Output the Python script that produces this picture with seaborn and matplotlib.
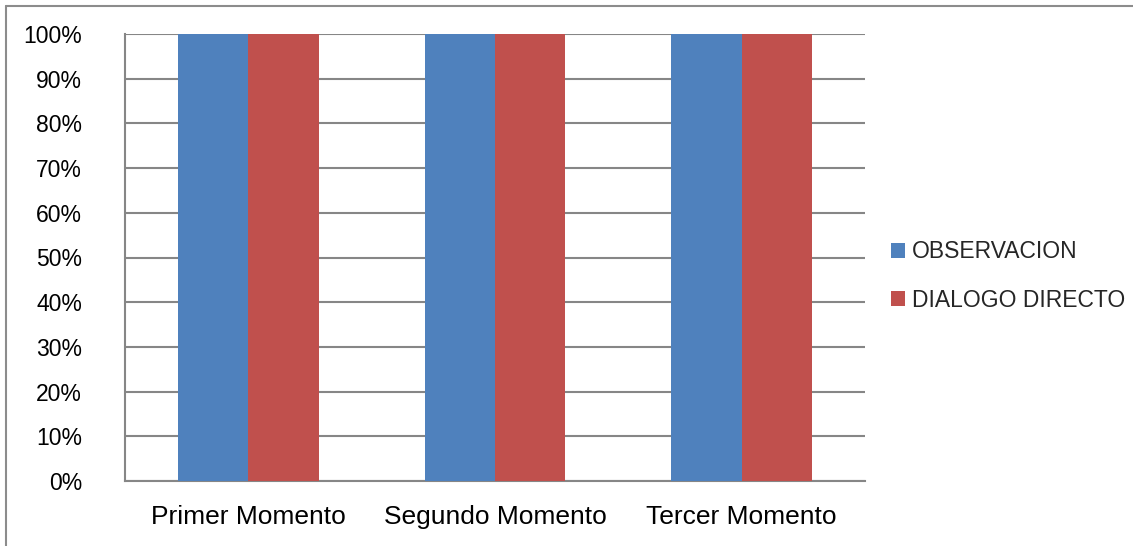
import matplotlib
matplotlib.use("Agg")
import matplotlib.pyplot as plt
from matplotlib.lines import Line2D
from matplotlib.patches import Patch
from matplotlib.ticker import PercentFormatter
import seaborn as sns
import pandas as pd

# Data
momentos = ["Primer Momento", "Segundo Momento", "Tercer Momento"]
observacion = [1.0, 1.0, 1.0]
dialogo_directo = [1.0, 1.0, 1.0]
series_names = ["OBSERVACION", "DIALOGO DIRECTO"]
y_ticks = [0.0, 0.1, 0.2, 0.3, 0.4, 0.5, 0.6, 0.7, 0.8, 0.9, 1.0]

df = pd.DataFrame({
    "Momento": momentos * 2,
    "Serie": [series_names[0]] * len(momentos) + [series_names[1]] * len(momentos),
    "Valor": observacion + dialogo_directo,
})

sns.set_style("white")
plt.rcParams["font.family"] = ["Liberation Sans", "DejaVu Sans"]

colors = {"OBSERVACION": "#4F81BD", "DIALOGO DIRECTO": "#C0504D"}
grid_color = "#868686"

fig = plt.figure(figsize=(11.33, 5.46), dpi=100)
ax = fig.add_axes([125 / 1133, 1 - 481 / 546, 740 / 1133, 447 / 546])

sns.barplot(
    data=df, x="Momento", y="Valor", hue="Serie",
    palette=colors, width=0.57, saturation=1, linewidth=0,
    ax=ax, legend=False, zorder=3,
)

ax.set_xlim(-0.5, 2.5)
ax.set_ylim(0, 1)
ax.set_yticks(y_ticks)
ax.yaxis.set_major_formatter(PercentFormatter(1.0, decimals=0))
ax.set_xlabel("")
ax.set_ylabel("")

ax.yaxis.grid(True, color=grid_color, linewidth=1.5, zorder=0)
ax.set_axisbelow(True)
for side in ("top", "right"):
    ax.spines[side].set_visible(False)
for side in ("left", "bottom"):
    ax.spines[side].set_color(grid_color)
    ax.spines[side].set_linewidth(1.5)

ax.tick_params(axis="y", length=0, pad=31, labelsize=16.5, labelcolor="black")
ax.tick_params(axis="x", length=0, pad=17, labelsize=19, labelcolor="black")

handles = [Patch(facecolor=colors[n], edgecolor="none") for n in series_names]
fig.legend(
    handles, series_names, loc="center left",
    bbox_to_anchor=(891 / 1133, 1 - 276 / 546),
    frameon=False, fontsize=16.5, handlelength=0.62, handleheight=0.62,
    handletextpad=0.3, labelspacing=1.1, borderpad=0, borderaxespad=0,
)

# Outer chart-area border (top and left edges)
border_kw = dict(color="#8C8C8C", linewidth=1.5, transform=fig.transFigure)
fig.add_artist(Line2D([6 / 1133, 1.0], [1 - 6 / 546, 1 - 6 / 546], **border_kw))
fig.add_artist(Line2D([6 / 1133, 6 / 1133], [0.0, 1 - 6 / 546], **border_kw))

fig.savefig("out.png", dpi=100)
